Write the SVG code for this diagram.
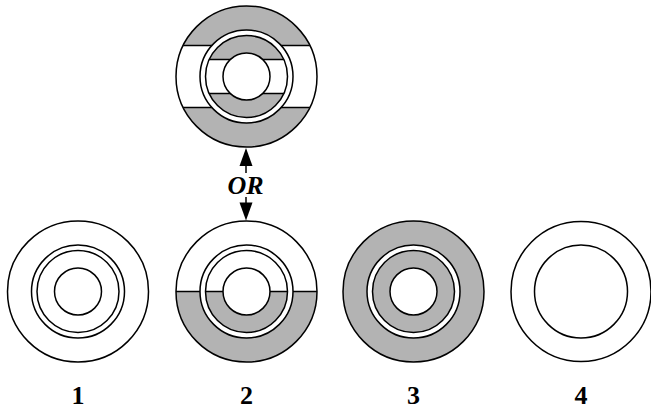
<svg xmlns="http://www.w3.org/2000/svg" width="651" height="411" viewBox="0 0 651 411">
<style>
.ln{stroke:#000;stroke-width:1.5}
.w{fill:#fff}
.g{fill:#b3b3b3}
.n{fill:none}
.ah{fill:#000;stroke:none}
.lbl{font-family:"Liberation Serif","Times New Roman","DejaVu Serif",serif;font-weight:700;font-size:26px;text-anchor:middle;fill:#000}
.or{font-family:"Liberation Serif","Times New Roman","DejaVu Serif",serif;font-weight:700;font-style:italic;font-size:26px;text-anchor:middle;fill:#000}
</style>
<defs>
<clipPath id="cTopOuter"><circle cx="246.5" cy="76.5" r="70.5"/></clipPath>
<clipPath id="cTopInner"><circle cx="246.5" cy="76.5" r="41"/></clipPath>
<clipPath id="c2Outer"><circle cx="246.5" cy="291.5" r="70.5"/></clipPath>
<clipPath id="c2Inner"><circle cx="246.5" cy="291.5" r="41"/></clipPath>
</defs>

<g id="nodeTop">
<circle cx="246.5" cy="76.5" r="70.5" class="w"/>
<g clip-path="url(#cTopOuter)">
<rect x="170" y="-10" width="160" height="55.5" class="g ln"/>
<rect x="170" y="107.5" width="160" height="60" class="g ln"/>
</g>
<circle cx="246.5" cy="76.5" r="70.5" class="n ln"/>
<circle cx="246.5" cy="76.5" r="46.5" class="w ln"/>
<circle cx="246.5" cy="76.5" r="41" class="w"/>
<g clip-path="url(#cTopInner)">
<rect x="200" y="20" width="95" height="39.5" class="g ln"/>
<rect x="200" y="93.5" width="95" height="40" class="g ln"/>
</g>
<circle cx="246.5" cy="76.5" r="41" class="n ln"/>
<circle cx="246.5" cy="76.5" r="23.5" class="w ln"/>
</g>

<g id="node1">
<circle cx="78" cy="291.5" r="70.5" class="w ln"/>
<circle cx="78" cy="291.5" r="46.5" class="w ln"/>
<circle cx="78" cy="291.5" r="41" class="w ln"/>
<circle cx="78" cy="291.5" r="23.5" class="w ln"/>
<text x="78" y="404" class="lbl">1</text>
</g>

<g id="node2">
<circle cx="246.5" cy="291.5" r="70.5" class="w"/>
<g clip-path="url(#c2Outer)">
<rect x="170" y="291.5" width="160" height="80" class="g ln"/>
</g>
<circle cx="246.5" cy="291.5" r="70.5" class="n ln"/>
<circle cx="246.5" cy="291.5" r="46.5" class="w ln"/>
<circle cx="246.5" cy="291.5" r="41" class="w"/>
<g clip-path="url(#c2Inner)">
<rect x="200" y="291.5" width="95" height="50" class="g ln"/>
</g>
<circle cx="246.5" cy="291.5" r="41" class="n ln"/>
<circle cx="246.5" cy="291.5" r="23.5" class="w ln"/>
<text x="246.5" y="404" class="lbl">2</text>
</g>

<g id="node3">
<circle cx="413.5" cy="291.5" r="70.5" class="g ln"/>
<circle cx="413.5" cy="291.5" r="46.5" class="w ln"/>
<circle cx="413.5" cy="291.5" r="41" class="g ln"/>
<circle cx="413.5" cy="291.5" r="23.5" class="w ln"/>
<text x="413.5" y="404" class="lbl">3</text>
</g>

<g id="node4">
<circle cx="581" cy="291.5" r="70" class="w ln"/>
<circle cx="581" cy="291.5" r="46.5" class="w ln"/>
<text x="581" y="404" class="lbl">4</text>
</g>

<g id="connectors">
<line x1="246" y1="173" x2="246" y2="160" class="ln"/>
<polygon points="246,148 239.5,166 252.5,166" class="ah"/>
<line x1="246" y1="197" x2="246" y2="208" class="ln"/>
<polygon points="246,220.5 239.5,202.5 252.5,202.5" class="ah"/>
<text x="245.5" y="193.5" class="or">OR</text>
</g>
</svg>
